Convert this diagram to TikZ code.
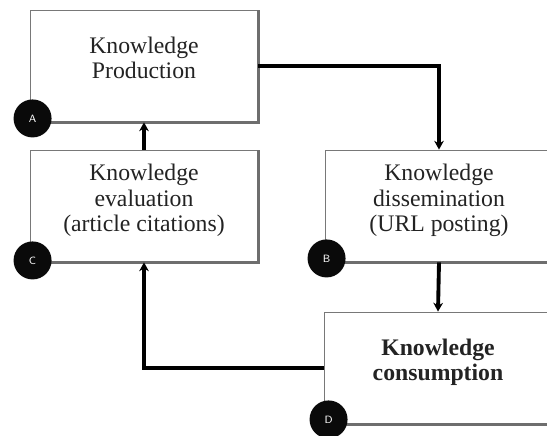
\documentclass[tikz,border=0pt]{standalone}
\usepackage{fontspec}
\setmainfont{Liberation Serif}
\usepackage{xcolor}
\definecolor{boxgrey}{RGB}{120, 120, 120}
\definecolor{shadegrey}{RGB}{110, 110, 110}
\definecolor{markblack}{RGB}{10, 10, 10}
\definecolor{inkgrey}{RGB}{35, 35, 35}
\usepackage{tikz}
\usetikzlibrary{
  arrows.meta,
  positioning,
  calc
}

\tikzset{
  stagebox/.style={draw=boxgrey, line width=0.5pt, fill=white, minimum width=4.56cm,
    minimum height=2.24cm, align=center, text depth=0.32cm, text=inkgrey,
    font=\rmfamily\fontsize{13.5}{14.5}\selectfont},
  stageshade/.style={shadegrey, line width=1.8pt},
  stagemark/.style={circle, fill=markblack, minimum size=0.76cm, inner sep=0pt,
    text=white, font=\sffamily\fontsize{6}{6}\selectfont},
  flow/.style={line width=2.2pt, -{Stealth[length=5pt, width=5.5pt]}}
}

\begin{document}
\begin{tikzpicture}

  \useasboundingbox (0, 0) rectangle (10.94, 8.72);
  \clip (0, 0) rectangle (10.94, 8.72);

  % ---------- stages ----------
  \node[stagebox] (A) at (2.88, 7.40) {Knowledge\\Production};
  \node[stagebox] (C) at (2.88, 4.60) {Knowledge\\evaluation\\(article citations)};
  \node[stagebox] (B) at (8.78, 4.60) {Knowledge\\dissemination\\(URL posting)};
  \node[stagebox, font=\rmfamily\bfseries\fontsize{13.5}{14.5}\selectfont] (D) at (8.76, 1.36)
    {Knowledge\\consumption};

  % shaded right and bottom edges
  \foreach \s in {A, B, C, D} {
    \draw[stageshade] (\s.south west) -| (\s.north east);
  }

  % ---------- letter marks ----------
  \node[stagemark] (mA) at ($(A.south west)+(0.06, 0.08)$) {A};
  \node[stagemark] (mC) at ($(C.south west)+(0.06, 0.04)$) {C};
  \node[stagemark] (mB) at ($(B.south west)+(0.04, 0.08)$) {B};
  \node[stagemark] (mD) at ($(D.south west)+(0.10, 0.10)$) {D};

  % ---------- flows ----------
  \draw[flow] (A.east) -| (B.north);
  \draw[flow] (B.south) -- (D.north);
  \draw[flow] (D.west) -| (C.south);
  \draw[flow] (C.north) -- (A.south);

\end{tikzpicture}
\end{document}
